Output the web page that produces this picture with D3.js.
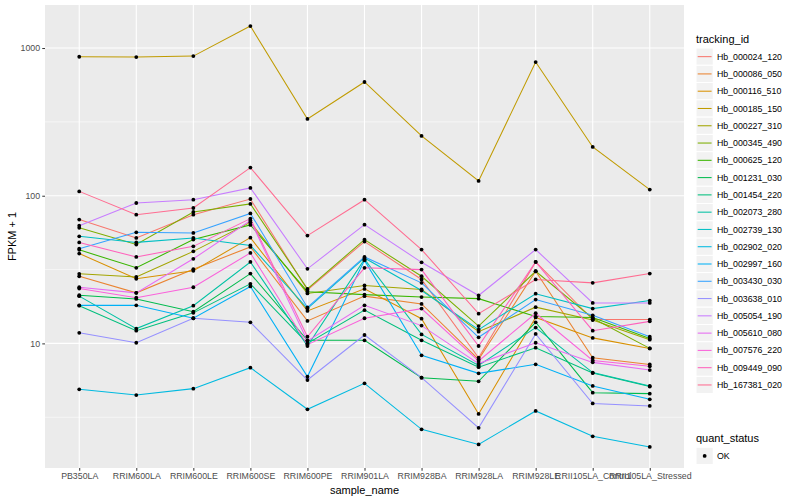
<!DOCTYPE html>
<html><head><meta charset="utf-8">
<script src="https://cdn.jsdelivr.net/npm/d3@7/dist/d3.min.js"></script>
<style>body{margin:0;background:#fff} text{font-family:"Liberation Sans",Arial,Helvetica,sans-serif}</style>
</head><body><svg id="c" width="800" height="500"></svg>
<script>
const categories = ["PB350LA","RRIM600LA","RRIM600LE","RRIM600SE","RRIM600PE","RRIM901LA","RRIM928BA","RRIM928LA","RRIM928LE","RRII105LA_Control","RRII105LA_Stressed"];
const trackingIds = ["Hb_000024_120","Hb_000086_050","Hb_000116_510","Hb_000185_150","Hb_000227_310","Hb_000345_490","Hb_000625_120","Hb_001231_030","Hb_001454_220","Hb_002073_280","Hb_002739_130","Hb_002902_020","Hb_002997_160","Hb_003430_030","Hb_003638_010","Hb_005054_190","Hb_005610_080","Hb_007576_220","Hb_009449_090","Hb_167381_020"];
const hueColors = ["#F8766D","#EA8331","#D89000","#C09B00","#A3A500","#7CAE00","#39B600","#00BB4E","#00BF7D","#00C1A3","#00BFC4","#00BAE0","#00B0F6","#35A2FF","#9590FF","#C77CFF","#E76BF3","#FA62DB","#FF62BC","#FF6C91"];

// FPKM + 1 per sample, in category order
const Hb_000024_120 = [68.9, 51.8, 74.4, 95, 23.0, 48.9, 27.1, 8.0, 35.6, 14.5, 14.5];
const Hb_000086_050 = [28.5, 22.0, 31.8, 45, 14.2, 20.9, 18.5, 7.8, 30.8, 8.0, 7.2];
const Hb_000116_510 = [40.6, 27.4, 31.0, 52, 16.6, 23.4, 14.7, 3.33, 15.0, 10.9, 9.25];
const Hb_000185_150 = [873, 869, 882, 1409, 331, 589, 254, 126, 804, 214, 110];
const Hb_000227_310 = [29.6, 28.2, 42.0, 66, 21.8, 24.7, 23.2, 12.0, 17.6, 14.4, 10.6];
const Hb_000345_490 = [60.6, 46.7, 77.6, 88, 23.4, 50.4, 28.5, 13.1, 30.8, 14.8, 9.25];
const Hb_000625_120 = [43, 32.5, 50.5, 63.4, 22.4, 21.4, 20.6, 20.1, 15.2, 15.0, 10.8];
const Hb_001231_030 = [21.2, 20.0, 16.4, 29.7, 10.5, 10.5, 5.86, 5.54, 13.9, 4.64, 4.57];
const Hb_001454_220 = [18, 12.2, 16.1, 25.3, 10.0, 16.8, 10.5, 6.9, 9.35, 6.3, 5.1];
const Hb_002073_280 = [20.9, 12.6, 18, 35.6, 9.6, 37.2, 11.5, 7.1, 12.8, 6.34, 5.15];
const Hb_002739_130 = [53.1, 48.3, 51.8, 46.1, 17.2, 37.9, 22.8, 12.4, 21.7, 17.2, 19.5];
const Hb_002902_020 = [4.89, 4.47, 4.94, 6.85, 3.58, 5.37, 2.62, 2.07, 3.49, 2.35, 1.99];
const Hb_002997_160 = [18.1, 18.1, 14.8, 24.3, 5.96, 36.5, 8.3, 6.27, 7.22, 5.15, 4.18];
const Hb_003430_030 = [43.8, 56.5, 56.0, 75.9, 17.5, 38.5, 25.7, 11.0, 19.8, 15.5, 11.1];
const Hb_003638_010 = [11.8, 10.1, 14.8, 13.9, 5.65, 11.4, 5.86, 2.68, 11.6, 3.92, 3.77];
const Hb_005054_190 = [62.7, 89.3, 94, 113, 32.0, 63.7, 35.4, 21.1, 43.2, 18.8, 18.8];
const Hb_005610_080 = [24.0, 22.0, 37.4, 68, 10.4, 18.1, 13.2, 7.3, 10.1, 7.44, 6.6];
const Hb_007576_220 = [23.5, 20.4, 24.0, 41.0, 9.8, 14.8, 17.2, 7.6, 16.0, 7.67, 7.0];
const Hb_009449_090 = [48.3, 38.5, 45.4, 70, 11.1, 32.5, 31.6, 9.6, 35.6, 12.2, 14.1];
const Hb_167381_020 = [107, 74.4, 82.6, 155, 53.7, 94, 43.2, 15.9, 27.1, 25.7, 29.7];

const yMajorTicks = [10, 100, 1000];
const yMinorTicks = [3.162, 31.62, 316.2];
const quantStatus = ["OK"];

const seriesValues = [Hb_000024_120,Hb_000086_050,Hb_000116_510,Hb_000185_150,Hb_000227_310,Hb_000345_490,Hb_000625_120,Hb_001231_030,Hb_001454_220,Hb_002073_280,Hb_002739_130,Hb_002902_020,Hb_002997_160,Hb_003430_030,Hb_003638_010,Hb_005054_190,Hb_005610_080,Hb_007576_220,Hb_009449_090,Hb_167381_020];
const series = trackingIds.map((id, i) => ({id, values: seriesValues[i].map((v, j) => ({cat: categories[j], v}))}));

const svg = d3.select("#c");
const P = {l: 45, r: 684, t: 5, b: 468};

const all = seriesValues.flat();
const lo = Math.log10(d3.min(all)), hi = Math.log10(d3.max(all));
const pad = (hi - lo) * 0.05;
const y = d3.scaleLog().domain([Math.pow(10, lo - pad), Math.pow(10, hi + pad)]).range([P.b, P.t]);
const x = d3.scalePoint().domain(categories).range([P.l, P.r]).padding(0.6);
const color = d3.scaleOrdinal().domain(trackingIds).range(hueColors);

// panel
svg.append("rect").attr("x", P.l).attr("y", P.t).attr("width", P.r - P.l).attr("height", P.b - P.t).attr("fill", "#EBEBEB");
const g = svg.append("g");
g.selectAll(".ymin").data(yMinorTicks).join("line")
  .attr("x1", P.l).attr("x2", P.r).attr("y1", d => y(d)).attr("y2", d => y(d))
  .attr("stroke", "#fff").attr("stroke-width", 0.55);
g.selectAll(".ymaj").data(yMajorTicks).join("line")
  .attr("x1", P.l).attr("x2", P.r).attr("y1", d => y(d)).attr("y2", d => y(d))
  .attr("stroke", "#fff").attr("stroke-width", 1.1);
g.selectAll(".xmaj").data(categories).join("line")
  .attr("x1", d => x(d)).attr("x2", d => x(d)).attr("y1", P.t).attr("y2", P.b)
  .attr("stroke", "#fff").attr("stroke-width", 1.1);

// lines
const line = d3.line().x(d => x(d.cat)).y(d => y(d.v));
svg.append("g").selectAll("path").data(series).join("path")
  .attr("d", d => line(d.values)).attr("fill", "none")
  .attr("stroke", d => color(d.id)).attr("stroke-width", 1.05);
// points
svg.append("g").selectAll("circle").data(series.flatMap(s => s.values)).join("circle")
  .attr("cx", d => x(d.cat)).attr("cy", d => y(d.v)).attr("r", 1.9).attr("fill", "#000");

// axes
const ya = svg.append("g").attr("transform", `translate(${P.l},0)`)
  .call(d3.axisLeft(y).tickValues(yMajorTicks).tickFormat(d3.format("d")).tickSize(2.75).tickPadding(2.2));
const xa = svg.append("g").attr("transform", `translate(0,${P.b})`)
  .call(d3.axisBottom(x).tickSize(2.75).tickPadding(2.2));
[ya, xa].forEach(a => {
  a.select(".domain").remove();
  a.selectAll(".tick line").attr("stroke", "#333").attr("stroke-width", 1);
  a.selectAll(".tick text").attr("fill", "#4D4D4D").style("font-size", "8.8px").style("font-family", '"Liberation Sans",Arial,sans-serif');
});

svg.append("text").attr("x", (P.l + P.r) / 2).attr("y", 494).attr("text-anchor", "middle")
  .style("font-size", "11px").attr("fill", "#000").text("sample_name");
svg.append("text").attr("transform", `translate(15.5,${(P.t + P.b) / 2}) rotate(-90)`).attr("text-anchor", "middle")
  .style("font-size", "11px").attr("fill", "#000").text("FPKM + 1");

// legend: tracking_id
const LX = 696, keyH = 17.28, key0 = 48;
svg.append("text").attr("x", LX).attr("y", 42.5).style("font-size", "11px").text("tracking_id");
const lg = svg.append("g").selectAll("g").data(trackingIds).join("g")
  .attr("transform", (d, i) => `translate(${LX},${key0 + i * keyH})`);
lg.append("rect").attr("width", keyH).attr("height", keyH).attr("fill", "#F2F2F2").attr("stroke", "#fff").attr("stroke-width", 1);
lg.append("line").attr("x1", 1.7).attr("x2", keyH - 1.7).attr("y1", keyH / 2).attr("y2", keyH / 2)
  .attr("stroke", d => color(d)).attr("stroke-width", 1.05);
lg.append("text").attr("x", keyH + 3.6).attr("y", keyH / 2).attr("dy", "0.35em")
  .style("font-size", "8.8px").attr("fill", "#000").text(d => d);

// legend: quant_status
svg.append("text").attr("x", LX).attr("y", 441.5).style("font-size", "11px").text("quant_status");
const qg = svg.append("g").selectAll("g").data(quantStatus).join("g")
  .attr("transform", (d, i) => `translate(${LX},${447.3 + i * keyH})`);
qg.append("rect").attr("width", keyH).attr("height", keyH).attr("fill", "#F2F2F2").attr("stroke", "#fff");
qg.append("circle").attr("cx", keyH / 2).attr("cy", keyH / 2).attr("r", 1.9).attr("fill", "#000");
qg.append("text").attr("x", keyH + 3.6).attr("y", keyH / 2).attr("dy", "0.35em").style("font-size", "8.8px").text(d => d);
</script></body></html>
